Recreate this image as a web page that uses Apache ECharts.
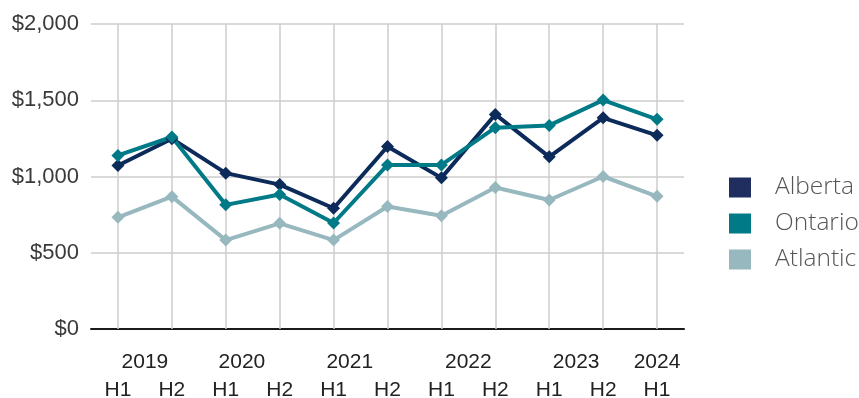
<!DOCTYPE html>
<html>
<head>
<meta charset="utf-8">
<script src="https://cdn.jsdelivr.net/npm/echarts@6/dist/echarts.min.js"></script>
<style>
  html, body { margin: 0; padding: 0; background: #fff; }
  #chart { width: 859px; height: 398px; }
</style>
</head>
<body>
<div id="chart"></div>
<script>
// periods on the x axis (half years)
const periods = ['2019 H1', '2019 H2', '2020 H1', '2020 H2', '2021 H1', '2021 H2',
  '2022 H1', '2022 H2', '2023 H1', '2023 H2', '2024 H1']
// year labels and where they sit, in category units
const yearLabels = ['2019', '2020', '2021', '2022', '2023', '2024']
const yearPos = [0.5, 2.3, 4.3, 6.5, 8.5, 10]

const alberta = [1072, 1248, 1022, 947, 792, 1197, 991, 1407, 1129, 1385, 1270]
const ontario = [1138, 1259, 814, 882, 695, 1076, 1076, 1320, 1335, 1501, 1375]
const atlantic = [732, 868, 583, 693, 583, 803, 743, 928, 846, 1000, 870]

const yTicks = { min: 0, max: 2000, step: 500 }

const axisFont = 'Liberation Sans, Arial, sans-serif'

function makeLine(name, color, data) {
  return {
    name: name,
    type: 'line',
    data: data,
    symbol: 'diamond',
    symbolSize: 13,
    lineStyle: { width: 4, color: color },
    itemStyle: { color: color },
    z: 3
  }
}

const chart = echarts.init(document.getElementById('chart'))

const series = [
  makeLine('Alberta', '#0c2b5b', alberta),
  makeLine('Ontario', '#007a87', ontario),
  makeLine('Atlantic', '#97b8be', atlantic)
]
// vertical grid lines through each point
series[0].markLine = {
  silent: true,
  z: 1,
  symbol: ['none', 'none'],
  label: { show: false },
  lineStyle: { color: '#cccccc', width: 1.5, type: 'solid' },
  emphasis: { disabled: true },
  data: periods.map((p, i) => ({ xAxis: i }))
}

chart.setOption({
  animation: false,
  grid: { left: 91, right: 175, top: 24, bottom: 69, outerBoundsMode: 'none' },
  legend: {
    orient: 'vertical',
    left: 729,
    top: 175,
    padding: 0,
    icon: 'rect',
    itemWidth: 22,
    itemHeight: 20,
    itemGap: 11,
    selectedMode: false,
    textStyle: {
      fontFamily: 'Open Sans',
      fontWeight: 300,
      fontSize: 24.5,
      lineHeight: 20,
      color: '#555',
      padding: [0, 0, 0, 19]
    },
    data: [
      { name: 'Alberta', itemStyle: { color: '#1f2e5e' } },
      { name: 'Ontario', itemStyle: { color: '#007a87' } },
      { name: 'Atlantic', itemStyle: { color: '#97b8be' } }
    ]
  },
  xAxis: [
    {
      type: 'category',
      data: periods,
      boundaryGap: true,
      axisLine: { lineStyle: { color: '#1a1a1a', width: 2 } },
      axisTick: { show: false },
      splitLine: { show: false },
      axisLabel: {
        interval: 0,
        margin: 51,
        fontSize: 21,
        fontFamily: axisFont,
        color: '#222',
        formatter: v => v.split(' ')[1]
      }
    },
    {
      type: 'value',
      position: 'bottom',
      min: -0.5,
      max: 10.5,
      interval: 0.1,
      axisLine: { show: false },
      axisTick: { show: false },
      splitLine: { show: false },
      axisLabel: {
        margin: 23,
        fontSize: 21,
        fontFamily: axisFont,
        color: '#222',
        showMinLabel: true,
        showMaxLabel: true,
        formatter: v => {
          const i = yearPos.findIndex(p => Math.abs(p - v) < 0.01)
          return i >= 0 ? yearLabels[i] : ''
        }
      }
    }
  ],
  yAxis: {
    type: 'value',
    min: yTicks.min,
    max: yTicks.max,
    interval: yTicks.step,
    axisLine: { show: false },
    axisTick: { show: false },
    splitLine: { lineStyle: { color: '#cccccc', width: 1.5 } },
    axisLabel: {
      margin: 12,
      fontSize: 22,
      fontFamily: axisFont,
      color: '#3a3a3a',
      formatter: v => '$' + v.toLocaleString('en-US')
    }
  },
  series: series
})
</script>
</body>
</html>
